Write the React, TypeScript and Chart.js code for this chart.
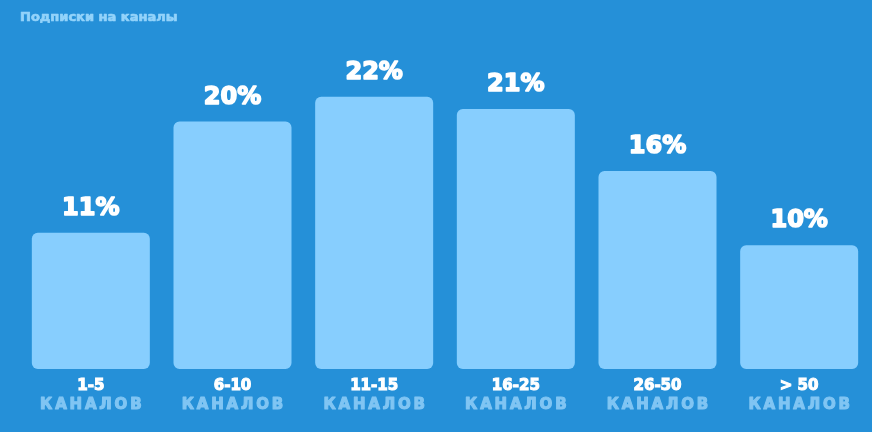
import React, { useEffect, useRef } from 'react';
import { Chart, registerables } from 'chart.js';

Chart.register(...registerables);

const TITLE = 'Подписки на каналы';
const categories = ['1-5', '6-10', '11-15', '16-25', '26-50', '> 50'];
const unitLabels = ['КАНАЛОВ', 'КАНАЛОВ', 'КАНАЛОВ', 'КАНАЛОВ', 'КАНАЛОВ', 'КАНАЛОВ'];
const values = [11, 20, 22, 21, 16, 10];

const BG = '#2590D8';
const BAR = '#87CEFE';
const TITLE_COLOR = '#93D3FA';
const UNIT_COLOR = '#80C5F3';
const FONT = '"DejaVu Sans", "Open Sans", sans-serif';

const overlayPlugin = {
  id: 'overlay',
  afterDatasetsDraw(chart: any) {
    const ctx = chart.ctx;
    const meta = chart.getDatasetMeta(0);

    // title
    ctx.save();
    ctx.fillStyle = TITLE_COLOR;
    ctx.strokeStyle = TITLE_COLOR;
    ctx.lineWidth = 0.7;
    ctx.lineJoin = 'round';
    ctx.font = `bold 13px ${FONT}`;
    ctx.textAlign = 'left';
    ctx.textBaseline = 'middle';
    ctx.fillText(TITLE, 20, 17.5);
    ctx.strokeText(TITLE, 20, 17.5);
    ctx.restore();

    // value labels
    ctx.save();
    ctx.fillStyle = '#FFFFFF';
    ctx.strokeStyle = '#FFFFFF';
    ctx.lineWidth = 1.6;
    ctx.lineJoin = 'round';
    ctx.font = `bold 24px ${FONT}`;
    ctx.textAlign = 'center';
    ctx.textBaseline = 'middle';
    meta.data.forEach((bar: any, i: number) => {
      const t = values[i] + '%';
      ctx.fillText(t, bar.x, bar.y - 24);
      ctx.strokeText(t, bar.x, bar.y - 24);
    });
    ctx.restore();

    // second line of category labels
    const xs = chart.scales.x;
    ctx.save();
    ctx.fillStyle = UNIT_COLOR;
    ctx.strokeStyle = UNIT_COLOR;
    ctx.lineWidth = 1.1;
    ctx.lineJoin = 'round';
    ctx.font = `bold 15px ${FONT}`;
    ctx.textAlign = 'center';
    ctx.textBaseline = 'middle';
    try { (ctx as any).letterSpacing = '2.8px'; } catch (e) {}
    unitLabels.forEach((t, i) => {
      const x = xs.getPixelForTick(i) + 1.4;
      ctx.fillText(t, x, 405.5);
      ctx.strokeText(t, x, 405.5);
    });
    ctx.restore();
  },
};

export default function App() {
  const ref = useRef<HTMLCanvasElement>(null);
  useEffect(() => {
    document.body.style.margin = '0';
    const chart = new Chart(ref.current!, {
      type: 'bar',
      data: {
        labels: categories,
        datasets: [
          {
            data: values,
            backgroundColor: BAR,
            borderRadius: 6,
            borderSkipped: false,
            barPercentage: 0.833,
            categoryPercentage: 1,
          },
        ],
      },
      options: {
        animation: false,
        responsive: false,
        maintainAspectRatio: false,
        layout: { padding: { left: 20, right: 2, top: 59.5, bottom: 29 } },
        plugins: {
          legend: { display: false },
          tooltip: { enabled: false },
          title: { display: false },
        },
        scales: {
          x: {
            grid: { display: false, drawTicks: false },
            border: { display: false },
            ticks: {
              color: '#FFFFFF',
              font: { family: FONT, size: 15, weight: 'bold' },
              textStrokeColor: '#FFFFFF',
              textStrokeWidth: 1.1,
              padding: 8,
              maxRotation: 0,
              autoSkip: false,
            },
          },
          y: {
            display: false,
            min: 0,
            max: 25,
          },
        },
      },
      plugins: [overlayPlugin],
    });
    return () => chart.destroy();
  }, []);
  return (
    <div style={{ width: 872, height: 432, background: BG }}>
      <canvas ref={ref} width={872} height={432} style={{ display: 'block' }} />
    </div>
  );
}
